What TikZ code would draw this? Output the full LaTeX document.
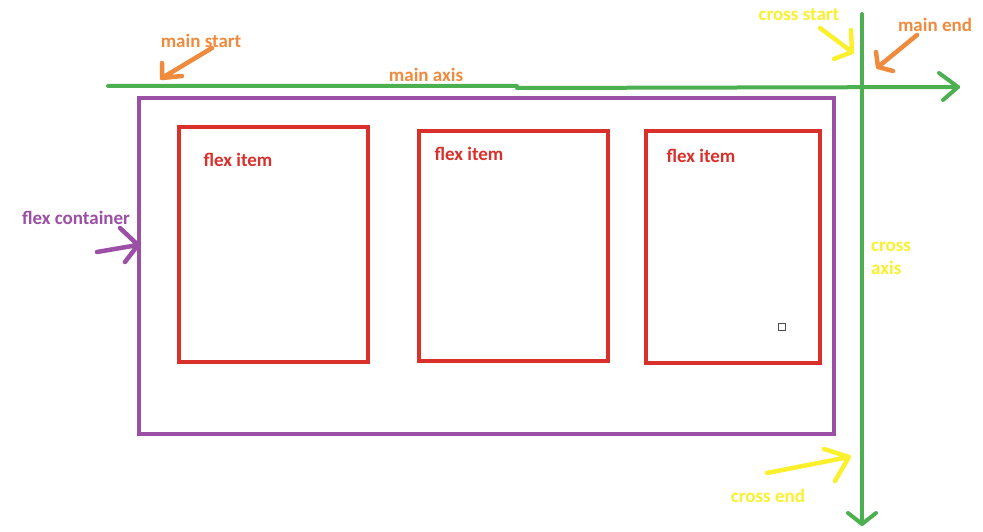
\documentclass[tikz,border=0pt]{standalone}
\usepackage{fontspec}
\setmainfont{Carlito}
\definecolor{gr}{RGB}{76,175,80}
\definecolor{pu}{RGB}{155,79,165}
\definecolor{rd}{RGB}{217,48,44}
\definecolor{orn}{RGB}{240,138,60}
\definecolor{yel}{RGB}{250,240,45}
\begin{document}
\begin{tikzpicture}[x=1pt,y=-1pt,
  lbl/.style={font=\fontsize{19}{22}\selectfont\bfseries, inner sep=0pt},
  itembox/.style={draw=rd, line width=3.5pt, inner sep=0pt},
  axisln/.style={draw=gr, line width=4pt, line cap=round, line join=round},
  note/.style={line width=4.5pt, line cap=round, line join=round}]
\useasboundingbox (0,0) rectangle (983,532);
% container and items
\node[draw=pu, line width=4pt, minimum width=695, minimum height=336, inner sep=0pt] (cont) at (486.5,266) {};
\node[itembox, minimum width=189, minimum height=235] (it1) at (273.5,244.5) {};
\node[itembox, minimum width=189, minimum height=230] (it2) at (513.5,246) {};
\node[itembox, minimum width=174, minimum height=232] (it3) at (733,247) {};
\node[lbl, text=rd] (t1) at (238,160) {flex item};
\node[lbl, text=rd] (t2) at (469,154) {flex item};
\node[lbl, text=rd] (t3) at (701,156) {flex item};
\node[draw=black!70, line width=1.3pt, minimum size=7, inner sep=0pt] (sq) at (782,327) {};
% axes
\coordinate (ma0) at (108,86);
\coordinate (ma1) at (517,86);
\coordinate (ma2) at (517,88);
\coordinate (maT) at (958,87);
\coordinate (maA) at (939,73);
\coordinate (maB) at (943,100);
\draw[axisln] (ma0) -- (ma1) -- (ma2) -- (maT);
\draw[axisln] (maA) -- (maT) -- (maB);
\coordinate (ca0) at (862,14);
\coordinate (caT) at (862,524);
\coordinate (caA) at (848,513);
\coordinate (caB) at (876,513);
\draw[axisln] (ca0) -- (caT);
\draw[axisln] (caA) -- (caT) -- (caB);
% labels
\node[lbl, text=orn] (lms) at (201,41) {main start};
\node[lbl, text=orn] (lma) at (426,75) {main axis};
\node[lbl, text=yel] (lcs) at (799,15) {cross start};
\node[lbl, text=orn] (lme) at (935,25) {main end};
\node[lbl, text=pu] (lfc) at (76,218) {flex container};
\node[lbl, text=yel, align=left, anchor=west] (lca) at (871,258) {cross\\[1pt]axis};
\node[lbl, text=yel] (lce) at (768,496) {cross end};
% annotation arrows
\coordinate (s1) at (212,48); \coordinate (p1) at (162,78);
\coordinate (a1) at (162,63); \coordinate (b1) at (182,76);
\draw[note, draw=orn] (s1) -- (p1) (a1) -- (p1) -- (b1);
\coordinate (s2) at (820,28); \coordinate (p2) at (852,52);
\coordinate (a2) at (851,30); \coordinate (b2) at (834,59);
\draw[note, draw=yel] (s2) -- (p2) (a2) -- (p2) -- (b2);
\coordinate (s3) at (917,35); \coordinate (p3) at (878,67);
\coordinate (a3) at (876,52); \coordinate (b3) at (893,71);
\draw[note, draw=orn] (s3) -- (p3) (a3) -- (p3) -- (b3);
\coordinate (s4) at (97,252); \coordinate (p4) at (138,245);
\coordinate (a4) at (120,228); \coordinate (b4) at (125,262);
\draw[note, draw=pu] (s4) -- (p4) (a4) -- (p4) -- (b4);
\coordinate (s5) at (767,473); \coordinate (p5) at (849,457);
\coordinate (a5) at (824,449); \coordinate (b5) at (835,481);
\draw[note, draw=yel] (s5) -- (p5) (a5) -- (p5) -- (b5);
\end{tikzpicture}
\end{document}
